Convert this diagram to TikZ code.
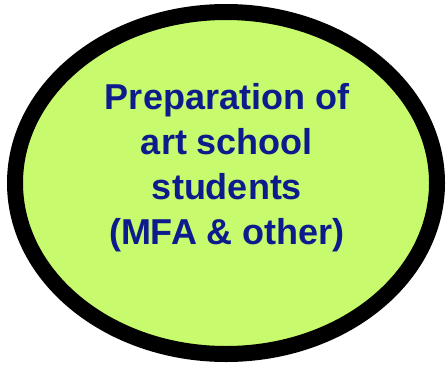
\documentclass[tikz,border=0pt]{standalone}
\usepackage{fontspec}
\setmainfont{Liberation Sans}
\definecolor{limefill}{RGB}{200,250,110}
\definecolor{navytext}{RGB}{12,28,140}
\begin{document}
\begin{tikzpicture}[x=1pt,y=1pt,
  blob/.style={draw=black,line width=16pt,fill=limefill},
  label/.style={text=navytext,font=\bfseries\fontsize{36}{44.7}\selectfont,align=center,inner sep=0pt}]
\useasboundingbox (0,0) rectangle (446,368);
\path[blob] (226,185) ellipse [x radius=211, y radius=171];
\node[label,anchor=base] (t) at (227,124) {Preparation of\\art school\\students\\(MFA \& other)};
\end{tikzpicture}
\end{document}
